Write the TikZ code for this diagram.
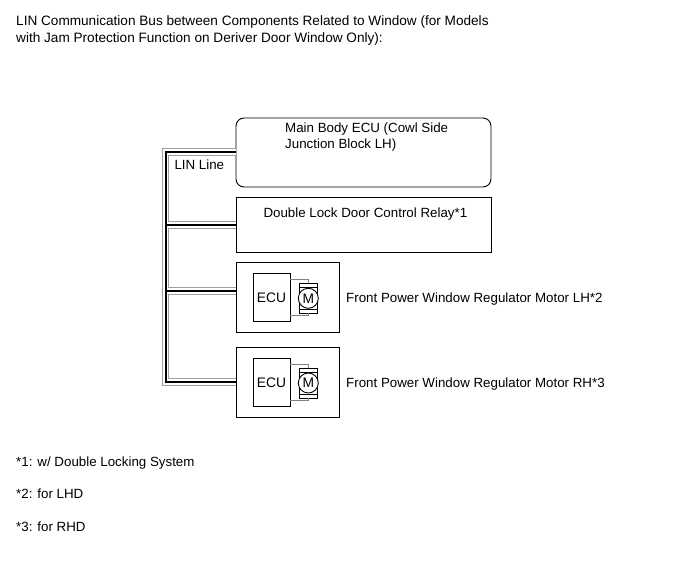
\documentclass[tikz,border=0pt]{standalone}
\usepackage{fontspec}
\setmainfont{Liberation Sans}
\begin{document}
\begin{tikzpicture}[x=1pt,y=-1pt,
  box/.style={draw, line width=0.9pt, anchor=north west, inner sep=0pt, outer sep=0pt},
  txt/.style={anchor=base west, inner sep=0pt, font=\fontsize{13.33}{16.5}\selectfont},
  ttxt/.style={anchor=base west, inner sep=0pt, font=\fontsize{13.6}{16.5}\selectfont},
  ctxt/.style={inner sep=0pt, font=\fontsize{13.8}{16.5}\selectfont},
  wire/.style={draw=gray, line width=0.8pt},
  bus/.style={draw=black, line width=2pt,
    preaction={draw=gray!75, line width=7.6pt},
    preaction={draw=white, line width=5.4pt}},
  motor/.pic={
    \draw[line width=0.7pt] (-9,-15) rectangle (9,15);
    \draw[line width=0.7pt] (-9,-10.6) -- (9,-10.6) (-9,11) -- (9,11);
    \coordinate (-t) at (0,-15);
    \coordinate (-b) at (0,15);
    \node[circle, draw, fill=white, minimum size=20pt, inner sep=0pt, line width=0.9pt,
      font=\fontsize{13.8}{16}\selectfont] (-m) at (0,0) {M};
  }]
\useasboundingbox (0,0) rectangle (691,564);

% title
\node[ttxt] (title1) at (16,26) {LIN Communication Bus between Components Related to Window (for Models};
\node[ttxt] (title2) at (16,42.7) {with Jam Protection Function on Deriver Door Window Only):};

% boxes
\node[box, rounded corners=8pt, minimum width=255pt, minimum height=69pt] (mainecu) at (236,118) {};
\node[txt] (mainecu1) at (285,132.7) {Main Body ECU (Cowl Side};
\node[txt] (mainecu2) at (285,149) {Junction Block LH)};

\node[box, minimum width=255pt, minimum height=55pt] (relay) at (236,197) {};
\node[txt] (relaytxt) at (263.3,217.3) {Double Lock Door Control Relay*1};

\node[box, minimum width=103pt, minimum height=70pt] (lh) at (236,262.5) {};
\node[box, minimum width=37pt, minimum height=47.5pt] (lhecu) at (253,273.5) {};
\node[ctxt] (lhecutxt) at (lhecu.center) {ECU};
\pic (lhm) at (308.3,298.3) {motor};
\draw[wire] ([yshift=-6pt]lhecu.north east) -| (lhm-t);
\draw[wire] ([yshift=6pt]lhecu.south east) -| (lhm-b);
\node[txt] (lhtxt) at (346,302.7) {Front Power Window Regulator Motor LH*2};

\node[box, minimum width=103pt, minimum height=70pt] (rh) at (236,347.5) {};
\node[box, minimum width=37pt, minimum height=48pt] (rhecu) at (253,358.5) {};
\node[ctxt] (rhecutxt) at (rhecu.center) {ECU};
\pic (rhm) at (308.3,383) {motor};
\draw[wire] ([yshift=-6pt]rhecu.north east) -| (rhm-t);
\draw[wire] ([yshift=6pt]rhecu.south east) -| (rhm-b);
\node[txt] (rhtxt) at (346,387.3) {Front Power Window Regulator Motor RH*3};

% LIN bus
\coordinate (j0) at (165.5,152);
\coordinate (j1) at (165.5,225);
\coordinate (j2) at (165.5,291);
\coordinate (j3) at (165.5,382);
\draw[bus] (mainecu.west |- j0) -- (j0) -- (j3) -- (rh.west |- j3)
           (j1) -- (relay.west |- j1)
           (j2) -- (lh.west |- j2);
\node[txt] (linline) at (174.3,169.5) {LIN Line};

% footnotes
\node[txt] (fn1) at (16,466.5) {*1: w/ Double Locking System};
\node[txt] (fn2) at (16,498.8) {*2: for LHD};
\node[txt] (fn3) at (16,531.5) {*3: for RHD};
\end{tikzpicture}
\end{document}
